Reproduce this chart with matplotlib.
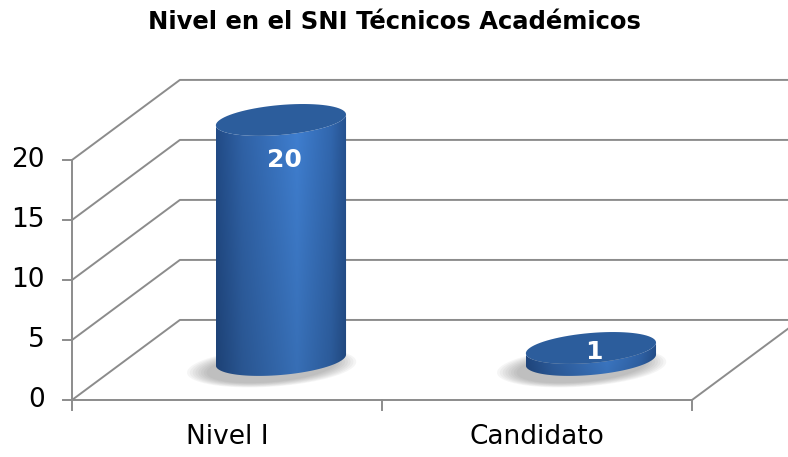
import matplotlib.pyplot as plt
import numpy as np
from matplotlib.patches import Polygon

# chart data
categories = ['Nivel I', 'Candidato']
values = [20, 1]
yticks = [0, 5, 10, 15, 20]
title = 'Nivel en el SNI Técnicos Académicos'

# fake 3D geometry (in data units)
DX = 0.348      # depth shift along x (category units)
DY = 6.67       # depth shift along y (value units)
RX = 0.21       # cylinder half-width
RY = 1.25       # ellipse half-height
TILT = 0.45     # right side of ellipses slightly higher
grid_col = '#8c8c8c'


def ellipse_pts(xc, yc, t0, t1, n=80):
    t = np.linspace(t0, t1, n)
    return np.column_stack([xc + RX * np.cos(t), yc + RY * np.sin(t) + TILT * np.cos(t)])


def body_colors(h=60, w=200):
    u = np.linspace(0, 1, w)
    stops = [0, 0.2, 0.62, 0.88, 1]
    r = np.interp(u, stops, [0x22, 0x30, 0x40, 0x32, 0x26])
    g = np.interp(u, stops, [0x4c, 0x63, 0x80, 0x68, 0x52])
    b = np.interp(u, stops, [0x88, 0xa8, 0xd2, 0xb0, 0x90])
    row = np.column_stack([r, g, b]) / 255
    shade = np.linspace(0.86, 1.0, h)[:, None, None]
    return row[None, :, :] * shade


fig = plt.figure(figsize=(7.88, 4.57), dpi=100)
ax = fig.add_axes([0, 0, 1, 1])
ax.set_xlim(-0.7323, 1.8097)
ax.set_ylim(-4.75, 33.33)
ax.axis('off')

x0, x1 = -0.5, len(categories) - 0.5

# back wall and floor gridlines
for v in yticks:
    ax.plot([x0, x0 + DX, x1 + DX], [v, v + DY, v + DY], color=grid_col, lw=1.4, zorder=1)
ax.plot([x0, x1, x1 + DX], [0, 0, DY], color=grid_col, lw=1.4, zorder=1)
ax.plot([x0, x0], [0, yticks[-1]], color=grid_col, lw=1.4, zorder=1)

# ticks
for v in yticks:
    ax.plot([x0 - 0.03, x0], [v, v], color=grid_col, lw=1.4)
    ax.text(x0 - 0.087, v, str(v), ha='right', va='center', fontsize=19, color='black')
for k in range(len(categories) + 1):
    ax.plot([x0 + k, x0 + k], [0, -0.85], color=grid_col, lw=1.4)
for i, c in enumerate(categories):
    ax.text(i, -3.05, c, ha='center', va='center', fontsize=19, color='black')

# cylinders
for i, v in enumerate(values):
    xc = i + DX / 2
    yb = DY / 2
    yt = v + DY / 2
    # soft shadow
    for s in np.linspace(1.3, 1.0, 8):
        t = np.linspace(0, 2 * np.pi, 80)
        sh = np.column_stack([xc - 0.03 + RX * s * np.cos(t),
                              yb - 0.6 + RY * s * np.sin(t) + TILT * np.cos(t)])
        ax.add_patch(Polygon(sh, closed=True, facecolor='#606060', edgecolor='none',
                             alpha=0.06, zorder=2))
    # body
    lower_bot = ellipse_pts(xc, yb, np.pi, 2 * np.pi)
    lower_top = ellipse_pts(xc, yt, 2 * np.pi, np.pi)
    body = Polygon(np.vstack([lower_bot, lower_top]), closed=True,
                   facecolor='none', edgecolor='none', zorder=3)
    ax.add_patch(body)
    img = ax.imshow(body_colors(), extent=[xc - RX, xc + RX, yb - RY - TILT, yt + RY + TILT],
                    aspect='auto', origin='lower', zorder=3, interpolation='bilinear')
    img.set_clip_path(body)
    # top face
    top = ellipse_pts(xc, yt, 0, 2 * np.pi)
    ax.add_patch(Polygon(top, closed=True, facecolor='#2c5d9c', edgecolor='none', zorder=4))
    # label
    ly = yt - min(v / 3, DY / 2)
    ax.text(xc + 0.01, ly, str(v), ha='center', va='center', fontsize=18,
            fontweight='bold', color='white', zorder=5)

fig.text(0.5, 0.952, title, ha='center', va='center', fontsize=17.5, fontweight='bold')

fig.savefig('out.png', dpi=100)
